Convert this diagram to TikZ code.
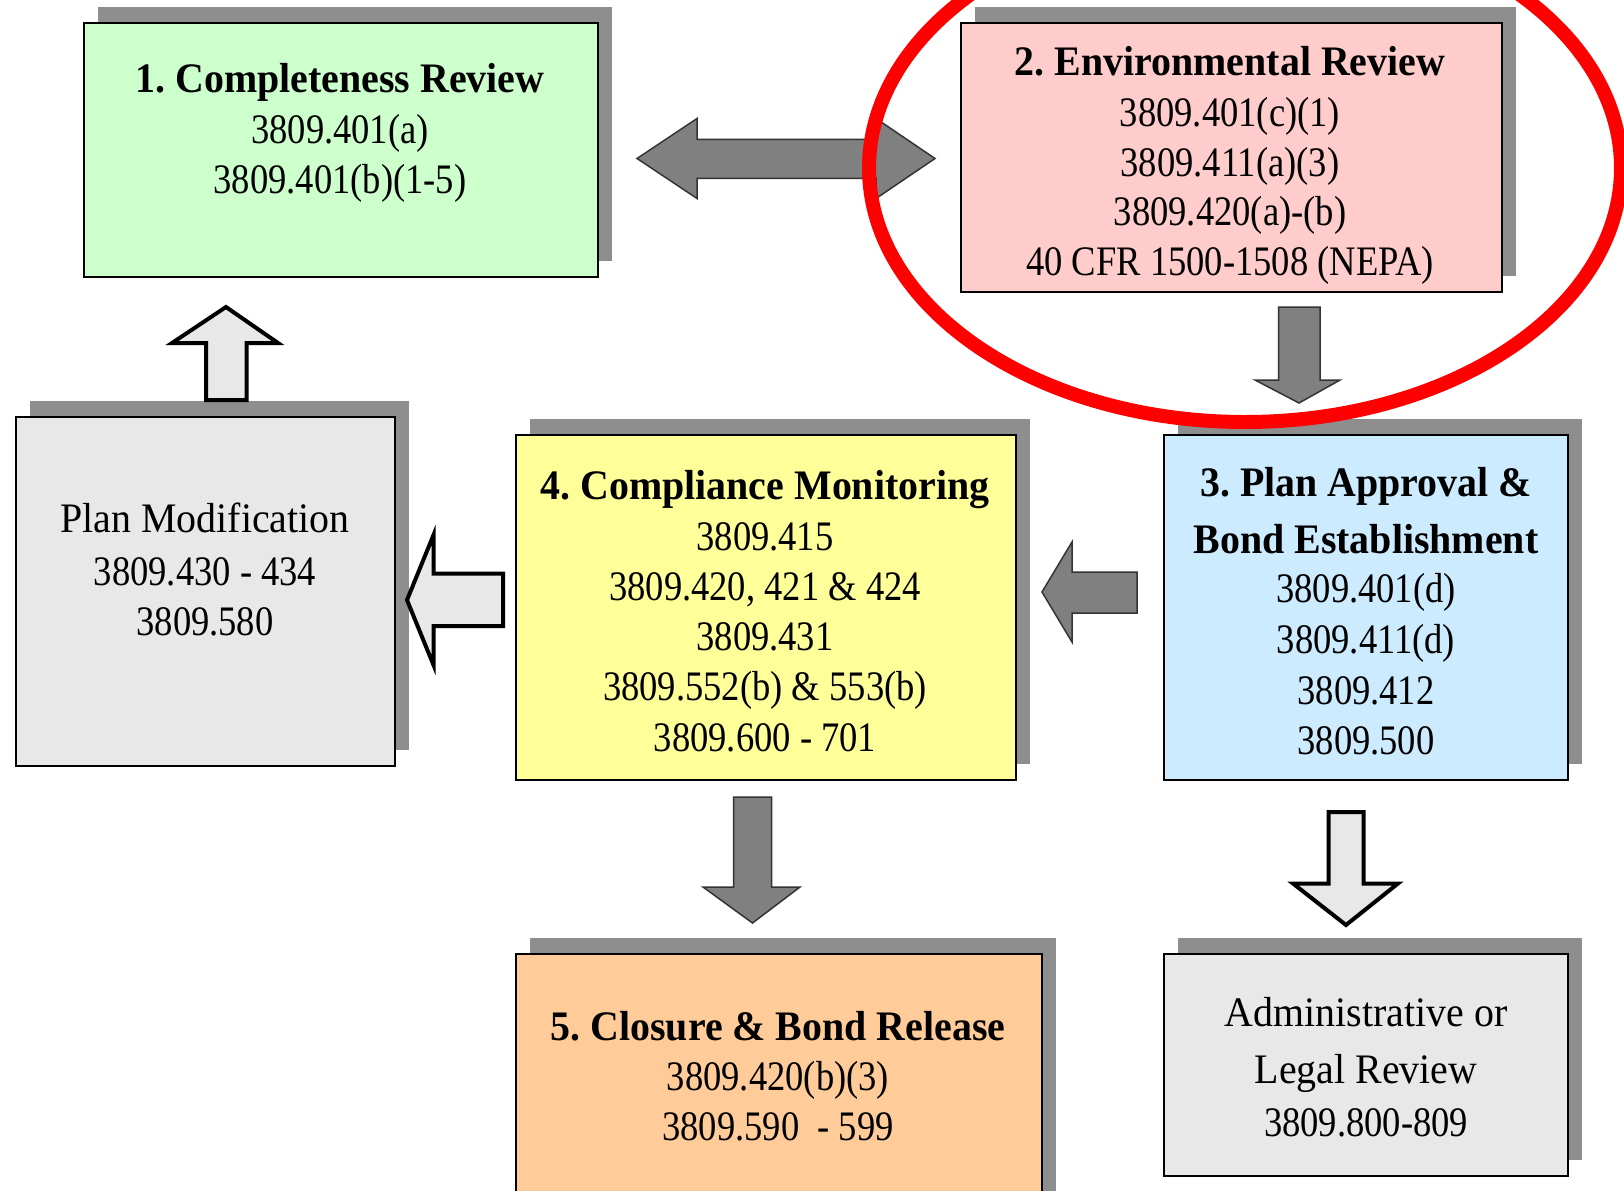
\documentclass[tikz,border=0pt]{standalone}
\usepackage{fontspec}
\setmainfont{Liberation Serif}
\newfontfamily\wfont{Liberation Serif}[FakeStretch=0.95]
\newfontfamily\nfont{Liberation Serif}[FakeStretch=0.87]
\usetikzlibrary{shadows}
\definecolor{cgreen}{HTML}{CCFFCC}
\definecolor{cpink}{HTML}{FFCCCC}
\definecolor{cgray}{HTML}{E8E8E8}
\definecolor{cyellow}{HTML}{FFFF99}
\definecolor{cblue}{HTML}{CCEBFF}
\definecolor{corange}{HTML}{FFCC99}
\definecolor{shadowc}{HTML}{8E8E8E}
\definecolor{agray}{HTML}{808080}
\definecolor{adark}{HTML}{333333}
\frenchspacing
\begin{document}
\begin{tikzpicture}[x=0.5pt,y=-0.5pt,
  box/.style={draw=black, line width=1pt, inner sep=0pt,
    drop shadow={shadow xshift=7pt, shadow yshift=8pt, fill=shadowc, opacity=1}},
  num/.style={inner sep=0pt, anchor=base, font=\frenchspacing\nfont\fontsize{21}{25}\selectfont},
  wrd/.style={inner sep=0pt, anchor=base, font=\frenchspacing\wfont\fontsize{21}{25}\selectfont},
  ttl/.style={inner sep=0pt, anchor=base, font=\frenchspacing\wfont\bfseries\fontsize{21}{25}\selectfont},
  garrow/.style={fill=agray, draw=adark, line width=0.75pt, line join=miter},
  harrow/.style={fill=cgray, draw=black, line width=2pt, line join=miter}]
\useasboundingbox (0,0) rectangle (1624,1190);
\clip (0,0) rectangle (1624,1190);
\fill[white] (0,0) rectangle (1624,1190);

% boxes
\node[box, fill=cgreen, minimum width=257pt, minimum height=127pt] (b1) at (341,150) {};
\node[box, fill=cpink, minimum width=270.5pt, minimum height=134.5pt] (b2) at (1231.5,157.5) {};
\node[box, fill=cgray, minimum width=189.5pt, minimum height=174.5pt] (pm) at (205,591.5) {};
\node[box, fill=cyellow, minimum width=250pt, minimum height=172.5pt] (b4) at (766,607.5) {};
\node[box, fill=cblue, minimum width=202pt, minimum height=172.5pt] (b3) at (1366,607.5) {};
\node[box, fill=corange, minimum width=263pt, minimum height=133pt] (b5) at (779,1087) {};
\node[box, fill=cgray, minimum width=202pt, minimum height=111pt] (adm) at (1366,1065) {};

% texts box 1
\node[ttl] (b1t) at (340,92) {1. Completeness Review};
\node[num] (b1a) at (340,143) {3809.401(a)};
\node[num] (b1b) at (340,193.5) {3809.401(b)(1-5)};
% box 2
\node[ttl] (b2t) at (1230,75) {2. Environmental Review};
\node[num] (b2a) at (1230,126.7) {3809.401(c)(1)};
\node[num] (b2b) at (1230,176) {3809.411(a)(3)};
\node[num] (b2c) at (1230,225.5) {3809.420(a)-(b)};
\node[num] (b2d) at (1230,275) {40 CFR 1500-1508 (NEPA)};
% plan modification
\node[wrd] (pmt) at (205,532) {Plan Modification};
\node[num] (pma) at (205,585) {3809.430 - 434};
\node[num] (pmb) at (205,635) {3809.580};
% box 4
\node[ttl] (b4t) at (765,499) {4. Compliance Monitoring};
\node[num] (b4a) at (765,550) {3809.415};
\node[num] (b4b) at (765,600.5) {3809.420, 421 \& 424};
\node[num] (b4c) at (765,650.5) {3809.431};
\node[num] (b4d) at (765,700.5) {3809.552(b) \& 553(b)};
\node[num] (b4e) at (765,751) {3809.600 - 701};
% box 3
\node[ttl] (b3t) at (1366,496.6) {3. Plan Approval \&};
\node[ttl] (b3u) at (1366,553.6) {Bond Establishment};
\node[num] (b3a) at (1366,602.5) {3809.401(d)};
\node[num] (b3b) at (1366,653.5) {3809.411(d)};
\node[num] (b3c) at (1366,704.5) {3809.412};
\node[num] (b3d) at (1366,754) {3809.500};
% box 5
\node[ttl] (b5t) at (778,1040) {5. Closure \& Bond Release};
\node[num] (b5a) at (778,1090.5) {3809.420(b)(3)};
\node[num] (b5b) at (778,1140.5) {3809.590\ \ - 599};
% admin
\node[wrd] (admt) at (1366,1026) {Administrative or};
\node[wrd] (admu) at (1366,1083) {Legal Review};
\node[num] (adma) at (1366,1136.5) {3809.800-809};

% block arrows
% 1 <-> 2
\draw[garrow] (637,158.5) -- (697,118.5) -- (697,139.3) -- (876,139.3) -- (876,118.5)
  -- (935,158.5) -- (876,198.5) -- (876,178.3) -- (697,178.3) -- (697,198.5) -- cycle;
% 2 -> 3
\draw[garrow] (1278.5,307) -- (1320,307) -- (1320,380) -- (1340,380) -- (1299,403)
  -- (1255,380) -- (1278.5,380) -- cycle;
% 3 -> 4
\draw[garrow] (1042,592) -- (1072,542) -- (1072,572) -- (1137,572) -- (1137,613)
  -- (1072,613) -- (1072,642) -- cycle;
% 4 -> 5
\draw[garrow] (733.5,797) -- (771.5,797) -- (771.5,887) -- (800,887) -- (752.5,923)
  -- (703,887) -- (733.5,887) -- cycle;
% 4 -> plan modification
\draw[harrow] (407,600) -- (433.5,535) -- (433.5,573.5) -- (503,573.5) -- (503,626)
  -- (433.5,626) -- (433.5,665) -- cycle;
% plan modification -> 1
\draw[harrow] (226,307) -- (278,343) -- (246.5,343) -- (246.5,400) -- (206,400)
  -- (206,343) -- (172,343) -- cycle;
% 3 -> admin
\draw[harrow] (1328.5,812) -- (1363.5,812) -- (1363.5,883.5) -- (1398,883.5) -- (1346,925)
  -- (1293,883.5) -- (1328.5,883.5) -- cycle;

% red ellipse
\draw[red, line width=7pt] (1245,168) ellipse [x radius=376, y radius=254];
\end{tikzpicture}
\end{document}
